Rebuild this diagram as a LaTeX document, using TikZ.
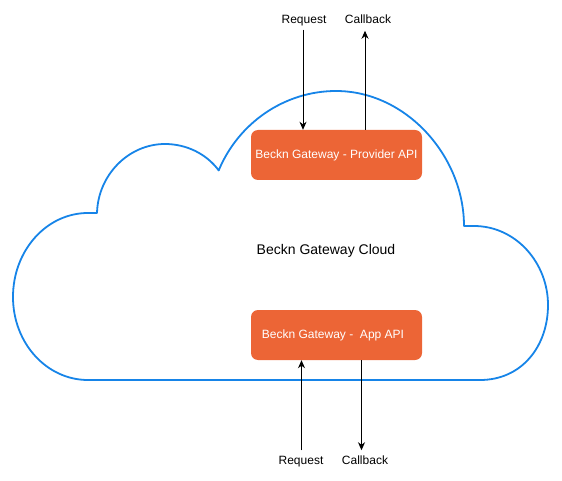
\documentclass[tikz,border=0pt]{standalone}
\usepackage{fontspec}
\setmainfont{Liberation Sans}
\usetikzlibrary{arrows.meta}
\definecolor{cloudblue}{RGB}{22,132,232}
\definecolor{boxorange}{RGB}{236,101,54}
\begin{document}
\begin{tikzpicture}[x=1pt,y=-1pt,
  lbl/.style={font=\fontsize{12}{14}\selectfont, inner sep=0pt, outer sep=0pt, text height=9pt, text depth=2.5pt},
  apibox/.style={rectangle, rounded corners=7pt, fill=boxorange, text=white, minimum width=171pt, minimum height=50pt, inner sep=0pt, font=\fontsize{12}{14}\selectfont},
  cloudline/.style={draw=cloudblue, line width=1.8pt, line join=round},
  arr/.style={draw=black, line width=1pt, -{Stealth[length=8pt,width=7pt,inset=2.5pt]}}
]
\useasboundingbox (0,0) rectangle (562,481);

% cloud outline
\draw[cloudline]
  (88,380) -- (480,380)
  .. controls (522,380) and (548,346) .. (548,305)
  .. controls (548,263) and (516,226) .. (474,226)
  -- (464,226)
  .. controls (464,156) and (406,91) .. (336,91)
  .. controls (284.6,91) and (238.4,122.9) .. (218.7,170.4)
  .. controls (206.2,153.5) and (186,144) .. (165,144)
  .. controls (128.5,144) and (98,175) .. (97,213)
  -- (88,213)
  .. controls (46.6,213) and (13,250.4) .. (13,297)
  .. controls (13,343.1) and (46.6,380) .. (88,380) -- cycle;

\node[lbl, font=\fontsize{14}{16}\selectfont] (cloudlbl) at (326,251) {Beckn Gateway Cloud};

% boxes
\node[apibox] (prov) at (336.5,155) {Beckn Gateway - Provider API};
\node[apibox] (app) at (336.5,335) {\hspace*{-7pt}Beckn Gateway -\ \ App API};

% labels
\node[lbl] (reqT) at (304,20) {Request};
\node[lbl] (cbT) at (368,20) {Callback};
\node[lbl] (reqB) at (301,461) {Request};
\node[lbl] (cbB) at (365,461) {Callback};

% connectors
\draw[arr] ([xshift=-33.5pt,yshift=-4pt]prov.north |- reqT.south) -- ([xshift=-33.5pt]prov.north);
\draw[arr] ([xshift=28.5pt]prov.north) -- ([xshift=28.5pt,yshift=-5pt]prov.north |- cbT.south);
\draw[arr] ([xshift=-35pt,yshift=5pt]app.south |- reqB.north) -- ([xshift=-35pt]app.south);
\draw[arr] ([xshift=25pt]app.south) -- ([xshift=25pt,yshift=5pt]app.south |- cbB.north);
\end{tikzpicture}
\end{document}
